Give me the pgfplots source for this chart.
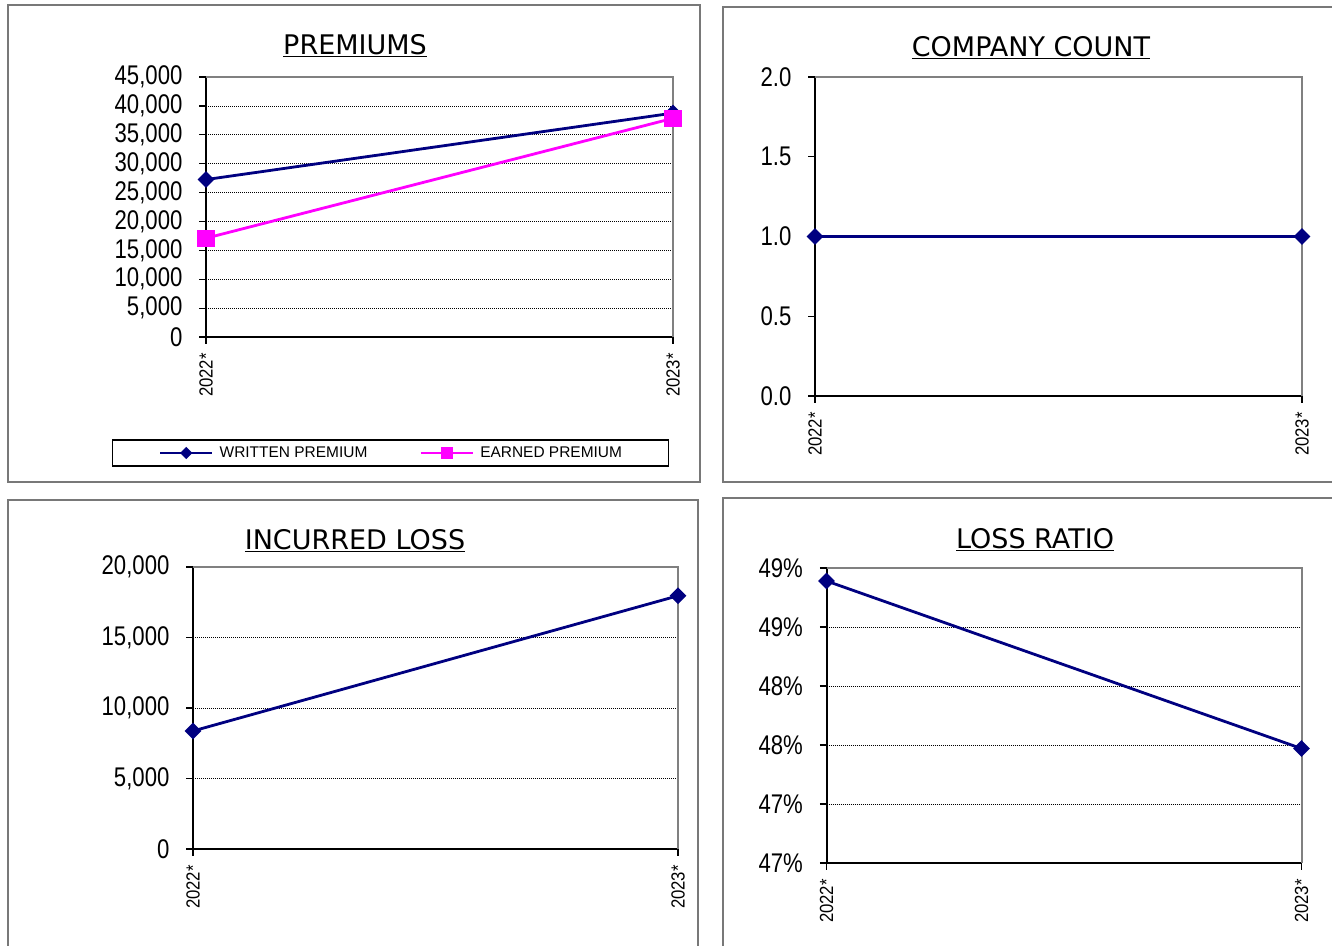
\documentclass[border=0pt]{standalone}
\usepackage{fontspec}
\setmainfont{Liberation Sans}
\newfontfamily\titlefont{DejaVu Sans}
\newfontfamily\tickfont[FakeStretch=0.82]{Liberation Sans}
\newfontfamily\xtickfont[FakeStretch=0.88]{Liberation Sans}
\usepackage{pgfplots}
\pgfplotsset{compat=1.18}
\definecolor{navy}{RGB}{0,0,128}
\definecolor{mag}{RGB}{255,0,255}
\definecolor{framegray}{RGB}{120,120,120}
\definecolor{boxgray}{RGB}{128,128,128}
\newcommand\ul[1]{\setbox0\hbox{#1}\rlap{\rule[-2.6pt]{\wd0}{1.1pt}}\box0}
\pgfplotsset{
  panel/.style={
    scale only axis, clip=false, enlargelimits=false,
    scaled y ticks=false,
    axis lines*=left,
    axis line style={black, line width=1.5pt},
    xmin=0, xmax=1, xtick={0,1}, xticklabels={2022*,2023*},
    tick align=outside, major tick length=5pt,
    tick style={black, line width=0.9pt},
    xticklabel style={font=\xtickfont\fontsize{14.25}{15}\selectfont, yshift=-7pt, rotate=90, anchor=east, inner sep=0pt},
    yticklabel style={font=\tickfont\fontsize{20.25}{21}\selectfont, anchor=east, inner sep=0pt, xshift=-12.5pt},
    major grid style={black, line width=0.55pt, dash pattern=on 0.75pt off 0.75pt},
  },
  navyline/.style={navy, line width=2.1pt, mark=square*, mark size=3.4pt, mark options={rotate=45, fill=navy, draw=navy, solid}},
}
\begin{document}
\begin{tikzpicture}
\useasboundingbox (0,0) rectangle (999pt,-709.5pt);
\clip (0,0) rectangle (999pt,-709.5pt);
% panel frames
\draw[framegray, line width=1.1pt] (6pt,-3.75pt) rectangle (525pt,-361.5pt);
\draw[framegray, line width=1.1pt] (542.25pt,-5.25pt) rectangle (1005pt,-361.5pt);
\draw[framegray, line width=1.1pt] (6pt,-375pt) rectangle (523.5pt,-712.5pt);
\draw[framegray, line width=1.1pt] (542.25pt,-373.5pt) rectangle (1005pt,-712.5pt);
% titles
\node[font=\titlefont\fontsize{20.25}{22}\selectfont, anchor=base, inner sep=0pt] at (266.25pt,-40.5pt) {\ul{PREMIUMS}};
\node[font=\titlefont\fontsize{20.25}{22}\selectfont, anchor=base, inner sep=0pt] at (773.25pt,-42pt) {\ul{COMPANY COUNT}};
\node[font=\titlefont\fontsize{20.25}{22}\selectfont, anchor=base, inner sep=0pt] at (266.25pt,-411.75pt) {\ul{INCURRED LOSS}};
\node[font=\titlefont\fontsize{20.25}{22}\selectfont, anchor=base, inner sep=0pt] at (776.25pt,-411pt) {\ul{LOSS RATIO}};

% PREMIUMS
\begin{axis}[panel, at={(154.5pt,-252.75pt)}, anchor=south west,
  width=350.25pt, height=195pt,
  ymin=0, ymax=45000, ytick={0,5000,10000,15000,20000,25000,30000,35000,40000,45000},
  yticklabels={0,{5,000},{10,000},{15,000},{20,000},{25,000},{30,000},{35,000},{40,000},{45,000}},
  ymajorgrids,
  legend columns=2,
  legend style={at={(0.395,-0.446)}, anchor=center, draw=black, line width=0.9pt,
    inner xsep=35pt, inner ysep=5pt, font=\fontsize{11.6}{12}\selectfont,
    column sep=4.5pt, /tikz/every even column/.append style={column sep=39pt},
    nodes={inner sep=0pt}},
  legend image code/.code={\draw[#1, mark repeat=2, mark phase=2, /tikz/every mark/.append style={scale=0.65}] plot coordinates {(0pt,0pt) (19.5pt,0pt) (39pt,0pt)};},
]
\draw[boxgray, line width=1.5pt] (rel axis cs:0,1) -- (rel axis cs:1,1) -- (rel axis cs:1,0);
\addplot[navyline] coordinates {(0,27250) (1,38750)};
\addlegendentry{WRITTEN PREMIUM}
\addplot[mag, line width=2.1pt, mark=square*, mark size=5.4pt, mark options={fill=mag, draw=mag, solid}] coordinates {(0,17100) (1,37850)};
\addlegendentry{EARNED PREMIUM}
\end{axis}

% COMPANY COUNT
\begin{axis}[panel, at={(611.25pt,-297pt)}, anchor=south west,
  width=365.25pt, height=239.25pt,
  ymin=0, ymax=2, ytick={0,0.5,1,1.5,2},
  yticklabels={0.0,0.5,1.0,1.5,2.0},
]
\draw[boxgray, line width=1.5pt] (rel axis cs:0,1) -- (rel axis cs:1,1) -- (rel axis cs:1,0);
\addplot[navyline] coordinates {(0,1) (1,1)};
\end{axis}

% INCURRED LOSS
\begin{axis}[panel, at={(144.75pt,-636.75pt)}, anchor=south west,
  width=363.75pt, height=211.5pt,
  ymin=0, ymax=20000, ytick={0,5000,10000,15000,20000},
  yticklabels={0,{5,000},{10,000},{15,000},{20,000}},
  ymajorgrids,
]
\draw[boxgray, line width=1.5pt] (rel axis cs:0,1) -- (rel axis cs:1,1) -- (rel axis cs:1,0);
\addplot[navyline] coordinates {(0,8370) (1,17960)};
\end{axis}

% LOSS RATIO
\begin{axis}[panel, at={(619.875pt,-647.25pt)}, anchor=south west,
  width=356.25pt, height=221.25pt,
  ymin=46.5, ymax=49, ytick={46.5,47,47.5,48,48.5,49},
  yticklabels={47\%,47\%,48\%,48\%,49\%,49\%},
  ymajorgrids,
]
\draw[boxgray, line width=1.5pt] (rel axis cs:0,1) -- (rel axis cs:1,1) -- (rel axis cs:1,0);
\addplot[navyline] coordinates {(0,48.89) (1,47.47)};
\end{axis}
\end{tikzpicture}
\end{document}
